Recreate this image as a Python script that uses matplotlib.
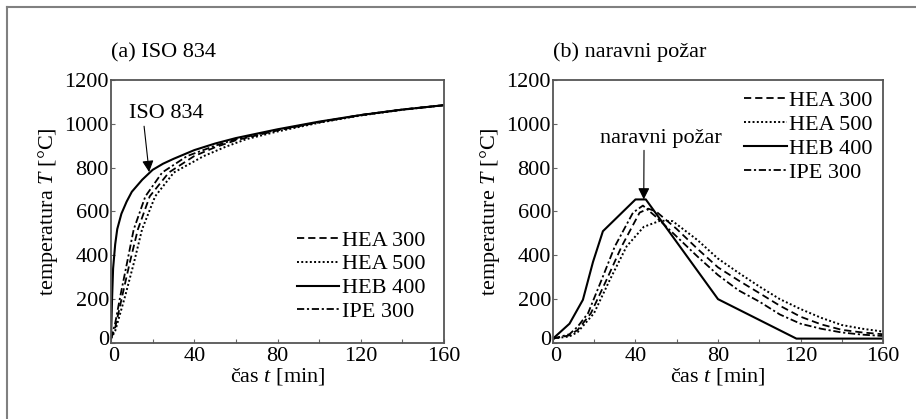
import matplotlib
matplotlib.use("Agg")
import matplotlib.pyplot as plt
from matplotlib.lines import Line2D
from matplotlib.transforms import ScaledTranslation

plt.rcParams['font.family'] = ['Liberation Serif', 'DejaVu Serif']
plt.rcParams['mathtext.fontset'] = 'custom'
plt.rcParams['mathtext.rm'] = 'Liberation Serif'
plt.rcParams['mathtext.it'] = 'Liberation Serif:italic'

# ---------------- (a) ISO 834 ----------------
iso_heb400_t = [0, 0.5, 1, 2, 3, 5, 7.5, 10, 15, 20, 25, 30, 40, 50, 60, 80, 100, 120, 140, 160]
iso_heb400_T = [20, 200, 340, 450, 520, 590, 645, 690, 745, 790, 818, 840, 880, 910, 935, 975, 1010, 1040, 1065, 1085]

iso_ipe300_t = [0, 2, 4.4, 7.7, 10.9, 16.5, 24.6, 36.6, 50, 60, 80, 100, 120, 140, 160]
iso_ipe300_T = [20, 90, 211, 366, 518, 669, 778, 853, 900, 930, 972, 1008, 1040, 1065, 1085]

iso_hea300_t = [0, 2, 5.3, 9, 12.9, 18.6, 27.8, 40, 50, 60, 80, 100, 120, 140, 160]
iso_hea300_T = [20, 70, 211, 366, 518, 669, 778, 853, 893, 925, 970, 1007, 1040, 1065, 1085]

iso_hea500_t = [0, 2, 6.7, 11, 14.9, 21.2, 30.2, 44.6, 55, 65, 80, 100, 120, 140, 160]
iso_hea500_T = [20, 55, 211, 366, 518, 669, 778, 853, 895, 930, 965, 1005, 1038, 1064, 1085]

# ---------------- (b) naravni požar ----------------
nat_heb400_t = [0, 8, 14.5, 19.4, 24.2, 40, 45, 80, 118, 160]
nat_heb400_T = [20, 88, 197, 370, 510, 655, 655, 200, 20, 20]

nat_ipe300_t = [0, 8, 12, 17, 23.6, 30, 38.8, 43.6, 50, 60, 70, 80, 90, 100, 110, 120, 130, 140, 150, 160]
nat_ipe300_T = [20, 40, 75, 136, 289, 441, 595, 627, 575, 485, 395, 310, 240, 189, 130, 88, 65, 48, 38, 32]

nat_hea300_t = [0, 8, 12, 18.4, 26, 33.3, 42, 46.2, 50, 60, 70, 80, 90, 100, 110, 120, 130, 140, 150, 160]
nat_hea300_T = [20, 35, 60, 136, 289, 441, 595, 613, 600, 520, 430, 345, 285, 228, 170, 120, 85, 60, 48, 40]

nat_hea500_t = [0, 8, 12, 19.9, 27.6, 35.7, 44, 52, 58, 70, 80, 90, 100, 110, 120, 130, 140, 150, 160]
nat_hea500_T = [20, 30, 50, 136, 289, 441, 530, 558, 556, 470, 385, 320, 258, 200, 155, 115, 82, 65, 52]

labels = ['HEA 300', 'HEA 500', 'HEB 400', 'IPE 300']
x_ticks = [0, 40, 80, 120, 160]
y_ticks = [0, 200, 400, 600, 800, 1000, 1200]

styles = {
    'HEA 300': dict(ls=(0, (4, 2.2)), lw=1.3),
    'HEA 500': dict(ls=(0, (1, 1.2)), lw=1.4),
    'HEB 400': dict(ls='-', lw=1.5),
    'IPE 300': dict(ls=(0, (4, 1.5, 1.2, 1.5)), lw=1.3),
}

fig = plt.figure(figsize=(9.16, 4.19), dpi=100)
axA = fig.add_axes([0.1212, 0.1814, 0.3635, 0.6277])
axB = fig.add_axes([0.6037, 0.1814, 0.3603, 0.6277])

dataA = {'HEA 300': (iso_hea300_t, iso_hea300_T), 'HEA 500': (iso_hea500_t, iso_hea500_T),
         'HEB 400': (iso_heb400_t, iso_heb400_T), 'IPE 300': (iso_ipe300_t, iso_ipe300_T)}
dataB = {'HEA 300': (nat_hea300_t, nat_hea300_T), 'HEA 500': (nat_hea500_t, nat_hea500_T),
         'HEB 400': (nat_heb400_t, nat_heb400_T), 'IPE 300': (nat_ipe300_t, nat_ipe300_T)}

fs = 16
for ax, data, ylab in [(axA, dataA, 'temperatura $T$ [°C]'), (axB, dataB, 'temperature $T$ [°C]')]:
    for lab in labels:
        t, T = data[lab]
        ax.plot(t, T, color='black', label=lab, **styles[lab])
    ax.set_xlim(0, 160)
    ax.set_ylim(0, 1200)
    ax.set_xticks(x_ticks)
    ax.set_xticks([20, 60, 100, 140], minor=True)
    ax.set_yticks(y_ticks)
    ax.tick_params(axis='both', which='both', direction='in', length=3, width=0.8,
                   color='#666666', labelsize=fs, pad=1.5)
    ax.tick_params(axis='x', pad=3)
    for s in ax.spines.values():
        s.set_color('#555555')
        s.set_linewidth(1.3)
    ax.set_xlabel('čas $t$ [min]', fontsize=fs, labelpad=0)
    ax.set_ylabel(ylab, fontsize=fs, labelpad=3)
    # nudge the two "0" labels apart, as in the reference
    ylab0 = ax.get_yticklabels()[0]
    ylab0.set_transform(ylab0.get_transform() + ScaledTranslation(0, 5 / 100, fig.dpi_scale_trans))
    xlab0 = ax.get_xticklabels()[0]
    xlab0.set_transform(xlab0.get_transform() + ScaledTranslation(3 / 100, 0, fig.dpi_scale_trans))

axA.legend(loc='lower right', bbox_to_anchor=(0.99, 0.02), frameon=False, fontsize=fs,
           handlelength=1.9, handletextpad=0.1, labelspacing=0.15, borderpad=0.2)
axB.legend(loc='upper right', bbox_to_anchor=(1.015, 1.02), frameon=False, fontsize=fs,
           handlelength=1.9, handletextpad=0.1, labelspacing=0.15, borderpad=0.2)

axA.annotate('ISO 834', xy=(18.3, 780), xytext=(26.5, 1045), fontsize=fs,
             ha='center', va='center',
             arrowprops=dict(arrowstyle='-|>', color='black', lw=0.8, mutation_scale=17,
                             shrinkA=0, shrinkB=0, relpos=(0.2, 0.0)))
axB.annotate('naravni požar', xy=(44, 655), xytext=(52.4, 935), fontsize=fs,
             ha='center', va='center',
             arrowprops=dict(arrowstyle='-|>', color='black', lw=0.8, mutation_scale=17,
                             shrinkA=0, shrinkB=0, relpos=(0.36, 0.0)))

axA.text(0.0, 1.105, '(a) ISO 834', transform=axA.transAxes, fontsize=fs, ha='left', va='center')
axB.text(0.0, 1.105, '(b) naravni požar', transform=axB.transAxes, fontsize=fs, ha='left', va='center')

# figure frame (left and top edges)
fig.add_artist(Line2D([6.5 / 916, 6.5 / 916], [0, 1 - 7.5 / 419], transform=fig.transFigure,
                      color='#808080', lw=1.5))
fig.add_artist(Line2D([6.5 / 916, 1], [1 - 7.5 / 419, 1 - 7.5 / 419], transform=fig.transFigure,
                      color='#808080', lw=1.5))

fig.savefig('out.png', dpi=100)
